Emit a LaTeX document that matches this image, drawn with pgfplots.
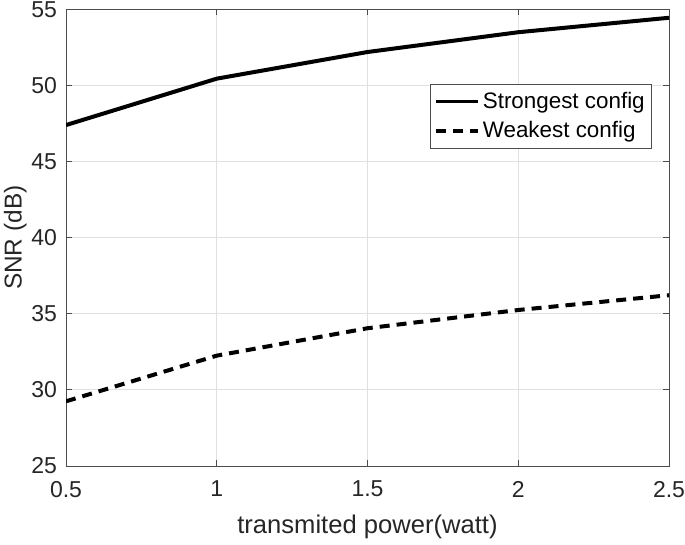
\documentclass[border=0pt]{standalone}
\usepackage{fontspec}
\setmainfont{Liberation Sans}
\usepackage{pgfplots}
\pgfplotsset{compat=1.18}

\begin{document}
\begin{tikzpicture}
\useasboundingbox (-33pt,-39.5pt) rectangle (309.5pt,233pt);
\begin{axis}[
    at={(0,0)}, anchor=south west,
    scale only axis,
    width=301.5pt, height=228.3pt,
    xmin=0.5, xmax=2.5, ymin=25, ymax=55,
    xtick={0.5,1,1.5,2,2.5},
    ytick={25,30,...,55},
    xticklabels={0.5,1,1.5,2,2.5},
    /pgf/number format/assume math mode=true,
    tick align=inside,
    major tick length=3pt,
    tick style={black!70, line width=0.4pt},
    axis line style={black!70, line width=0.4pt},
    grid=major,
    grid style={black!12, line width=0.4pt},
    ticklabel style={font=\fontsize{11.5}{13}\selectfont, black!85},
    xticklabel style={yshift=-4pt},
    yticklabel style={xshift=-1pt},
    xlabel={transmited power(watt)},
    ylabel={SNR (dB)},
    label style={black!85},
    xlabel style={font=\fontsize{12.8}{14}\selectfont, yshift=-2pt},
    ylabel style={font=\fontsize{12.2}{14}\selectfont, yshift=-4.5pt},
    legend style={at={(0.972,0.837)}, anchor=north east,
        draw=black!70, line width=0.4pt,
        font=\fontsize{11.2}{13}\selectfont,
        inner xsep=2pt, inner ysep=1.5pt, row sep=0pt,
        cells={anchor=west},
        nodes={inner xsep=1.5pt, inner ysep=2.5pt}},
    legend image post style={line width=1.6pt},
    legend image code/.code={\draw[#1] (0pt,0pt) -- (21pt,0pt);},
]
\addplot[black, line width=2pt] coordinates {
    (0.5,47.4) (1,50.45) (1.5,52.2) (2,53.5) (2.5,54.45)};
\addlegendentry{Strongest config}
\addplot[black, line width=2pt, dash pattern=on 5pt off 3.5pt] coordinates {
    (0.5,29.25) (1,32.25) (1.5,34.05) (2,35.25) (2.5,36.22)};
\addlegendentry{Weakest config}
\end{axis}
\end{tikzpicture}
\end{document}
